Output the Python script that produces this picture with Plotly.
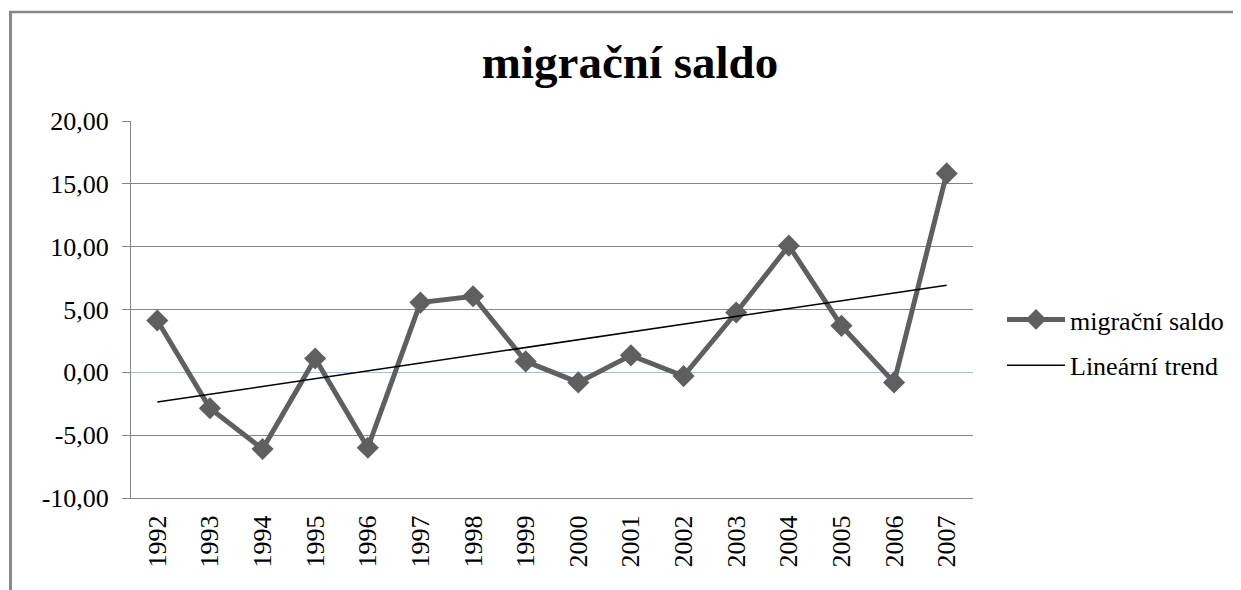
import numpy as np
import plotly.graph_objects as go

years = ["1992", "1993", "1994", "1995", "1996", "1997", "1998", "1999",
         "2000", "2001", "2002", "2003", "2004", "2005", "2006", "2007"]
saldo = [4.13, -2.86, -6.10, 1.10, -6.00, 5.55, 6.05, 0.87,
         -0.80, 1.35, -0.30, 4.76, 10.08, 3.70, -0.80, 15.83]
y_tickvals = [-10, -5, 0, 5, 10, 15, 20]
y_ticktext = ["-10,00", "-5,00", "0,00", "5,00", "10,00", "15,00", "20,00"]

# linear trend from the series
idx = np.arange(len(saldo))
slope, intercept = np.polyfit(idx, saldo, 1)
trend = (slope * idx + intercept).tolist()

FONT = "Liberation Serif, Times New Roman, serif"
GRID = "#868686"

fig = go.Figure()
fig.add_trace(go.Scatter(
    x=years, y=saldo, mode="lines+markers", name="migrační saldo",
    line=dict(color="#5f5f5f", width=5),
    marker=dict(symbol="diamond", size=17, color="#5f5f5f"),
    legendgroup="a",
))
fig.add_trace(go.Scatter(
    x=years, y=trend, mode="lines", name="Lineární trend",
    line=dict(color="#000000", width=1.5),
    legendgroup="b",
))

OFF = 8  # page body margin offset
W, H = 1241 - OFF, 590 - OFF
L, R, T, B = 131 - OFF, 973 - OFF, 121 - OFF, 498 - OFF
pw, ph = R - L, B - T

def px_x(p):
    return (p - OFF - L) / pw

def px_y(p):
    return (B - (p - OFF)) / ph

shapes = [
    # outer chart frame (top and left edges)
    dict(type="line", xref="paper", yref="paper", x0=px_x(9), x1=px_x(1241),
         y0=px_y(12), y1=px_y(12), line=dict(color="#888888", width=2.5)),
    dict(type="line", xref="paper", yref="paper", x0=px_x(10.5), x1=px_x(10.5),
         y0=px_y(11), y1=px_y(590), line=dict(color="#888888", width=3)),
]

fig.update_layout(
    width=W, height=H,
    margin=dict(l=L, r=W - R, t=T, b=H - B, pad=0),
    paper_bgcolor="white", plot_bgcolor="white",
    font=dict(family=FONT, size=26, color="#000000"),
    title=dict(text="<b>migrační saldo</b>", x=(630 - OFF) / W, xref="container",
               y=1 - (62 - OFF) / H, yref="container", yanchor="middle", xanchor="center",
               font=dict(family=FONT, size=47, color="#000000")),
    showlegend=True,
    legend=dict(x=px_x(1002), y=px_y(296), xanchor="left", yanchor="top",
                font=dict(family=FONT, size=26, color="#000000"),
                itemwidth=58, tracegroupgap=9, traceorder="grouped",
                bgcolor="rgba(0,0,0,0)"),
    shapes=shapes,
    xaxis=dict(
        type="category", range=[-0.5, len(years) - 0.5],
        showgrid=False, showline=True, linecolor=GRID, linewidth=1,
        ticks="", tickangle=-90, ticklabelstandoff=6,
        tickfont=dict(family=FONT, size=26, color="#000000"),
        zeroline=False,
    ),
    yaxis=dict(
        range=[-10, 20], tickvals=y_tickvals, ticktext=y_ticktext,
        showgrid=True, gridcolor=GRID, gridwidth=1,
        showline=True, linecolor=GRID, linewidth=1,
        ticks="outside", ticklen=8, tickcolor=GRID, ticklabelstandoff=8,
        zeroline=True, zerolinecolor="#a9bcd8", zerolinewidth=1,
        tickfont=dict(family=FONT, size=26, color="#000000"),
    ),
)

fig.write_html("out.html", config={"displayModeBar": False})
